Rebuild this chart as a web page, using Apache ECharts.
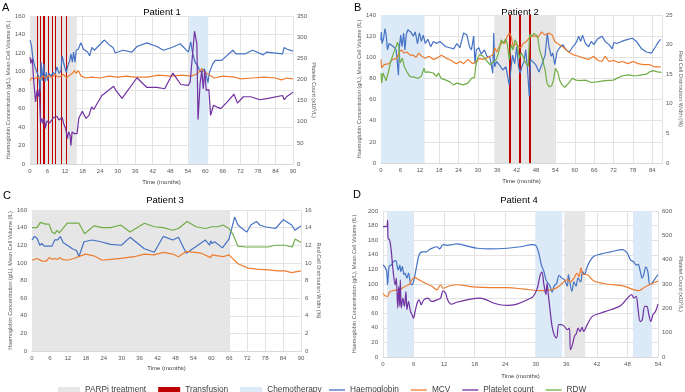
<!DOCTYPE html>
<html><head><meta charset="utf-8">
<script src="https://cdn.jsdelivr.net/npm/echarts@6/dist/echarts.min.js"></script>
<style>html,body{margin:0;padding:0;background:#fff}#c{width:685px;height:392px}</style>
</head><body><div id="c"></div>
<script>
// ---------- Patient 1 ----------
const p1Ticks = [0,6,12,18,24,30,36,42,48,54,60,66,72,78,84,90];
const p1Parpi = [[0,16]];
const p1Chemo = [[54.5,61]];
const p1Transfusion = [2.5,3.6,4.5,5.0,6.2,7.5,8.8,10.8,12.5];
const p1Hb = [[0,134],[0.5,128],[1.0,114],[1.7,105],[2.4,99],[3.0,94],[3.4,78],[3.8,110],[4.2,90],[4.7,108],[5.1,89],[5.6,99],[6.0,90],[6.5,98],[7.2,95],[7.9,99],[8.5,96],[9.2,105],[9.9,98],[10.6,101],[11.0,117],[11.7,107],[12.4,99],[13.1,108],[13.6,112],[14.0,119],[14.5,110],[14.9,121],[15.4,110],[15.8,123],[16.5,124],[17.4,131],[18.3,124],[19.7,121],[20.4,117],[21.2,126],[22.0,123],[25.5,134],[27.4,128],[28.4,126],[29.2,120],[31.8,123],[34.9,121],[36.6,127],[40.0,131],[43.4,127],[45.7,123],[48.5,126],[51.4,130],[54.2,121],[55.0,132],[55.7,119],[56.5,110],[57.3,107],[58.0,101],[58.7,99],[59.6,103],[60.3,96],[60.9,88],[61.4,99],[62.5,108],[63.4,112],[65.6,112],[69.4,123],[70.5,119],[73.5,119],[76.2,123],[79.8,118],[81.0,121],[86.4,119],[87.0,126],[88.0,124],[90,122]];
const p1Mcv = [[0,90],[0.5,93],[1.5,92],[2.5,94],[3.5,92],[4.5,95],[5.5,93],[6.5,96],[7.5,93],[8.5,97],[9.5,94],[10.5,95],[11.5,97],[12.5,93],[13.5,96],[14.5,98],[15.2,101],[15.8,98],[16.5,101],[17.5,95],[19,93],[21,94],[24,93],[27,95],[30,94],[33,95],[36,94],[40,94],[44,96],[48,95],[52,96],[55,95],[57,97],[58.8,103],[59.5,100],[61,97],[63,93],[66,95],[70,94],[72,92],[76,93],[80,94],[84,93],[86,91],[88,93],[90,92]];
const p1Plt = [[0,253],[0.3,238],[0.8,249],[1.25,198],[1.9,147],[2.4,174],[2.8,159],[3.2,178],[3.6,97],[4.0,108],[4.4,96],[4.9,108],[5.2,84],[5.8,102],[6.7,97],[8.1,110],[9.2,113],[9.9,104],[11.0,110],[11.5,96],[12.2,84],[12.8,60],[13.2,76],[13.7,68],[14.0,43],[14.4,76],[14.8,78],[15.1,72],[16.1,72],[16.7,108],[17.9,125],[18.6,115],[19.2,108],[20.2,115],[21.1,135],[21.8,129],[24.6,162],[25.4,166],[28.6,184],[29.4,174],[31.5,155],[36.6,204],[40.0,181],[43.4,181],[46.1,178],[48.9,215],[51.6,188],[54.2,186],[54.8,194],[55.5,249],[56.3,314],[57.1,284],[57.5,105],[58.2,190],[58.8,221],[59.3,178],[59.8,221],[60.3,174],[61.2,176],[61.8,115],[62.8,139],[63.9,135],[65.3,131],[67.5,147],[69.8,165],[71.0,144],[73.0,159],[75.5,159],[78.7,152],[81.5,155],[86.4,162],[87.0,152],[87.8,159],[90,170]];

// ---------- Patient 2 ----------
const p2Chemo = [[0,13.5]];
const p2Parpi = [[35.1,53.8]];
const p2Transfusion = [39.9,43.0,46.0];
const p2Hb = [[0,116],[0.1,124],[0.3,113],[0.8,118],[1.2,127],[1.6,121],[2.0,107],[2.5,113],[3.1,113],[3.9,110],[4.7,107],[5.4,83],[5.7,110],[6.1,121],[6.5,110],[7.0,123],[7.4,107],[7.8,121],[8.3,126],[9.2,124],[10.0,120],[10.6,124],[11.3,113],[11.9,123],[12.5,115],[13.1,121],[13.7,113],[14.5,117],[15.4,110],[16.2,115],[17.2,113],[18.2,115],[20.1,110],[21.3,109],[22.5,108],[23.5,113],[24.4,109],[25.6,123],[26.6,121],[27.4,110],[28.0,107],[28.7,120],[29.1,94],[29.5,107],[30.3,109],[31.0,103],[32.0,107],[32.8,101],[33.8,99],[34.6,85],[34.9,123],[35.2,91],[35.8,96],[36.6,93],[37.7,88],[38.7,91],[39.2,82],[39.7,74],[40.2,88],[40.7,102],[41.4,94],[42.0,110],[42.6,91],[43.1,85],[43.6,91],[44.3,96],[44.8,107],[45.3,91],[45.9,63],[46.3,98],[46.9,99],[47.9,93],[48.9,86],[49.9,94],[50.8,102],[51.5,123],[52.0,110],[52.7,101],[53.2,104],[53.8,93],[54.5,105],[55.3,109],[56.3,112],[57.3,107],[58.3,105],[59.4,110],[60.0,112],[60.6,115],[61.2,120],[61.8,115],[62.4,121],[63.3,113],[64.3,110],[65.1,115],[65.9,112],[66.9,117],[68.4,120],[69.4,115],[70.6,112],[71.6,108],[72.1,114],[73.0,113],[74.5,115],[76.4,117],[77.8,118],[79.1,115],[80.7,108],[82.2,105],[83.7,104],[84.3,104],[85.0,110],[86.0,115],[86.6,117]];
const p2Mcv = [[0,98],[0.2,90],[1.0,93],[2.4,94],[3.7,98],[4.9,99],[5.7,105],[6.4,107],[7.2,104],[8.0,105],[9.0,102],[10.0,102],[10.8,100],[11.7,104],[12.6,101],[13.7,99],[14.9,101],[16.2,98],[17.2,99],[18.7,102],[20.3,99],[21.8,97],[23.3,94],[24.6,96],[25.6,94],[26.9,98],[28.3,94],[29.5,96],[30.5,99],[31.5,98],[32.5,99],[33.8,101],[34.6,102],[35.2,109],[35.8,105],[36.6,110],[37.7,115],[38.3,113],[39.1,120],[39.7,123],[40.3,120],[40.9,110],[41.8,113],[42.6,110],[43.3,109],[44.0,113],[45.0,115],[46.4,120],[47.7,120],[48.7,119],[49.7,124],[50.8,121],[52.0,123],[53.0,121],[53.8,115],[55.1,112],[56.3,110],[58.1,105],[59.8,102],[61.2,101],[63.1,99],[64.3,98],[65.8,101],[67.2,97],[68.4,96],[69.4,101],[70.6,96],[72.1,97],[73.5,95],[74.7,96],[76.4,94],[78.1,96],[79.6,94],[81.2,93],[83.2,93],[84.7,91],[86.6,91]];
const p2Rdw = [[0,15.2],[0.2,13.5],[0.6,15.2],[1.2,15.2],[1.6,13.9],[2.3,15.4],[2.9,16.9],[3.7,18.3],[4.5,19.4],[5.1,20.4],[5.5,19.7],[5.9,16.9],[6.6,17.7],[7.2,16.3],[8.0,15.4],[9.0,14.6],[10.2,14.5],[11.6,14.3],[12.5,14.7],[13.3,16.0],[13.7,15.3],[14.6,15.4],[16.2,15.2],[17.2,14.6],[17.8,15.2],[18.6,14.3],[20.1,14.0],[21.3,13.7],[22.5,13.2],[23.5,13.5],[25.4,13.2],[26.9,13.5],[28.0,14.3],[29.0,14.5],[29.3,16.3],[29.9,17.7],[30.5,18.3],[31.5,18.1],[32.5,17.4],[33.8,16.6],[34.8,17.1],[35.6,17.4],[36.4,18.6],[37.2,20.8],[37.9,20.2],[38.5,20.9],[39.1,20.2],[39.7,17.4],[40.3,20.0],[40.9,19.1],[41.5,20.8],[42.2,20.0],[42.8,17.7],[43.4,18.6],[44.0,18.0],[44.8,16.9],[45.6,16.3],[46.0,21.7],[46.7,21.4],[47.3,21.9],[47.9,22.2],[48.5,21.4],[49.1,19.1],[49.9,17.7],[50.8,15.7],[51.4,13.5],[52.0,12.9],[52.8,13.0],[53.4,14.0],[54.0,16.0],[54.7,15.4],[55.3,14.0],[56.1,13.2],[56.9,12.8],[58.1,13.5],[59.2,14.3],[60.4,14.0],[61.7,13.9],[63.3,14.0],[65.1,13.6],[66.8,13.7],[69.4,13.9],[71.9,14.0],[73.0,14.3],[74.5,14.7],[76.6,14.9],[78.6,14.7],[80.7,14.9],[82.2,15.0],[83.2,15.4],[84.2,15.6],[85.6,15.4],[86.8,15.3]];

// ---------- Patient 3 ----------
const p3Parpi = [[0,66]];
const p3Hb = [[0,126],[0.8,130],[1.7,128],[2.6,120],[3.3,122],[4.1,119],[5.0,119],[6.7,119],[7.6,126],[8.6,126],[9.1,128],[9.5,130],[10.4,123],[11.8,120],[13.5,116],[14.9,114],[15.7,107],[17.4,124],[20.2,126],[23.0,124],[26.3,121],[29.9,120],[32.8,129],[37.6,116],[40.9,112],[43.9,130],[47.1,126],[49.0,129],[51.6,111],[53.8,116],[58.0,126],[59.4,120],[59.8,125],[60.2,122],[61.1,124],[63.7,117],[65.9,127],[67.8,152],[68.9,143],[70.3,139],[71.9,135],[73.2,143],[75.1,147],[76.2,143],[77.9,141],[81.5,139],[84.1,149],[86.9,143],[88.0,137],[90,142]];
const p3Mcv = [[0,103],[1.7,105],[3.4,102],[4.8,102],[5.7,106],[6.7,104],[7.6,105],[8.6,104],[9.3,106],[10.1,104],[11.8,103],[14.0,105],[16.3,108],[17.9,110],[20.7,108],[23.5,103],[26.3,104],[29.7,105],[34.2,107],[37.6,110],[40.9,109],[43.9,112],[47.1,110],[49.0,107],[51.6,113],[56.6,111],[59.8,106],[60.2,109],[62.2,108],[63.9,107],[65.9,109],[68.9,99],[72.3,94],[75.1,93],[79.0,92],[82.4,91],[84.6,91],[86.9,89],[90,91]];
const p3Rdw = [[0,14.0],[1.7,14.0],[2.8,14.6],[4.5,14.4],[5.7,14.4],[6.7,13.5],[7.5,13.3],[8.4,13.7],[9.1,13.4],[9.8,13.7],[10.4,13.5],[11.8,14.5],[13.5,14.5],[15.7,14.5],[17.6,13.3],[20.7,14.2],[23.5,14.0],[26.3,14.0],[29.7,14.3],[32.8,13.5],[37.6,14.5],[40.9,14.1],[43.9,14.0],[47.1,13.7],[49.0,13.9],[51.9,14.7],[54.9,14.1],[58.0,13.9],[60.2,14.1],[62.2,14.1],[63.9,14.3],[65.9,13.9],[67.3,13.2],[68.9,11.9],[71.7,11.8],[75.1,11.8],[79.0,11.8],[81.3,12.0],[84.6,12.0],[87.1,11.8],[88.0,12.7],[90,12.3]];

// ---------- Patient 4 ----------
const p4Chemo = [[0.8,6.0],[29.9,35.2],[49.1,52.8]];
const p4Parpi = [[35.6,39.7]];
const p4Hb = [[0,126],[0.3,124],[0.7,118],[0.9,99],[1.2,124],[1.6,126],[2.1,131],[2.5,132],[2.8,124],[3.0,119],[3.3,126],[3.5,117],[3.8,124],[4.1,113],[4.3,115],[4.7,108],[5.0,115],[5.4,101],[5.7,99],[6.0,103],[6.6,124],[7.1,140],[7.7,144],[8.4,144],[9.3,148],[10.6,151],[11.1,148],[11.8,154],[12.6,153],[13.6,154],[14.5,155],[16.5,152],[18.5,149],[21.1,148],[24.4,149],[27.0,151],[29.3,154],[30.0,153],[30.6,142],[31.1,126],[31.6,117],[32.0,106],[32.4,101],[32.8,97],[33.2,89],[33.6,97],[34.1,101],[34.6,112],[35.1,108],[35.6,106],[36.2,97],[36.4,113],[36.7,102],[37.1,90],[37.5,103],[37.9,97],[38.3,108],[38.8,103],[39.2,117],[39.6,113],[40.0,122],[40.6,131],[41.4,138],[42.7,141],[44.7,144],[47.0,147],[48.0,142],[48.6,133],[49.3,130],[49.7,126],[50.1,127],[50.5,118],[50.9,108],[51.2,113],[51.6,123],[52.0,117],[52.4,99],[52.8,101],[53.5,108],[54,113]];
const p4Mcv = [[0,87],[0.4,84],[0.9,83],[1.3,89],[2.0,91],[2.8,92],[3.7,94],[4.4,97],[5.2,100],[5.7,106],[6.2,109],[7.0,106],[8.3,101],[9.6,97],[10.6,92],[11.3,99],[11.8,94],[12.9,97],[14.5,99],[17.8,96],[21.1,95],[24.4,95],[27.7,93],[30.9,91],[33.6,93],[34.9,99],[36.2,106],[36.8,103],[37.5,108],[38.1,115],[38.5,110],[38.9,122],[39.3,113],[40.0,113],[41.4,104],[44.0,100],[47.3,97],[49.3,92],[50.3,91],[51.2,95],[52.6,100],[54,104]];
const p4Plt = [[0,536],[0.7,536],[0.9,563],[1.0,488],[1.3,481],[1.6,440],[2.0,351],[2.4,296],[2.6,324],[2.9,201],[3.1,290],[3.3,208],[3.4,317],[3.6,201],[3.9,242],[4.2,208],[4.5,269],[4.7,194],[5.0,228],[5.4,187],[5.7,174],[6.0,160],[6.3,187],[6.7,221],[7.1,235],[7.5,215],[8.0,235],[8.8,242],[9.6,228],[10.6,235],[11.3,242],[11.8,272],[12.3,262],[12.7,235],[13.4,217],[14.5,225],[16.5,235],[19.1,242],[21.8,221],[24.4,212],[26.3,217],[28.3,235],[29.5,249],[30.3,283],[30.8,331],[31.2,349],[31.6,297],[32.0,256],[32.2,303],[32.5,249],[32.8,194],[33.2,126],[33.6,92],[34.1,78],[34.5,133],[35.0,133],[35.6,126],[36.2,112],[36.6,119],[36.8,30],[37.2,51],[37.6,85],[38.0,98],[38.3,119],[38.7,105],[39.1,122],[39.4,105],[40.1,133],[41.1,167],[42.7,180],[44.7,194],[46.7,212],[48.0,242],[48.8,256],[49.3,242],[49.7,249],[50.1,194],[50.5,146],[50.9,153],[51.4,208],[51.8,208],[52.2,174],[52.6,146],[53.0,174],[53.5,187],[54,217]];

const C = {hb:'#4472c4', mcv:'#ed7d31', plt:'#7030a0', rdw:'#70ad47', parpi:'#e6e6e6', chemo:'#dce9f6', tx:'#c00000'};
const FONT = 'Liberation Sans, Arial, sans-serif';
const leftName = 'Haemoglobin Concentration (g/L), Mean Cell Volume (fL)';

const grids = [
  {left:30, right:392, top:16, bottom:228},
  {left:381, right:21, top:15, bottom:229},
  {left:32, right:384, top:210, bottom:41},
  {left:383, right:27, top:211, bottom:35}
];
const xMax = [90, 87, 90, 54];
const xGaps = [15, 15, 14, 16];

function xAxis(i){
  return {type:'value', gridIndex:i, min:0, max:xMax[i], interval:6,
    name:'Time (months)', nameLocation:'middle', nameGap:xGaps[i],
    nameTextStyle:{fontSize:6, color:'#404040', fontFamily:FONT},
    axisLine:{lineStyle:{color:'#d9d9d9'}}, axisTick:{show:false},
    axisLabel:{fontSize:6, color:'#595959', margin:4, fontFamily:FONT, formatter:v=> (v%6===0? String(v):'')},
    splitLine:{show:true, lineStyle:{color:'#e3e3e3', width:1}}};
}
function yLeft(i, max, interval, gap){
  return {type:'value', gridIndex:i, position:'left', min:0, max:max, interval:interval,
    name:leftName, nameLocation:'middle', nameRotate:90, nameGap:gap,
    nameTextStyle:{fontSize:5.5, color:'#595959', fontFamily:FONT},
    axisLine:{show:false}, axisTick:{show:false},
    axisLabel:{fontSize:6, color:'#595959', margin:5, fontFamily:FONT},
    splitLine:{show:true, lineStyle:{color:'#e3e3e3', width:1}}};
}
function yRight(i, max, interval, name, gap){
  return {type:'value', gridIndex:i, position:'right', min:0, max:max, interval:interval,
    name:name, nameLocation:'middle', nameRotate:-90, nameGap:gap,
    nameTextStyle:{fontSize:5.5, color:'#595959', fontFamily:FONT},
    axisLine:{show:false}, axisTick:{show:false},
    axisLabel:{fontSize:6, color:'#595959', margin:4, fontFamily:FONT},
    splitLine:{show:false}};
}
function line(name, data, gi, yi, color, smooth){
  return {type:'line', name:name, data:data, xAxisIndex:gi, yAxisIndex:yi, symbol:'none', smooth:smooth?0.35:false,
    lineStyle:{color:color, width:1.2}, itemStyle:{color:color}, z:5, silent:true};
}
function bands(name, ranges, gi, yi, color){
  return {type:'line', name:name, data:[], xAxisIndex:gi, yAxisIndex:yi, symbol:'none',
    itemStyle:{color:color}, lineStyle:{color:color}, z:1, silent:true,
    markArea:{silent:true, itemStyle:{color:color, opacity:1}, label:{show:false},
      data: ranges.map(r=>[{xAxis:r[0]},{xAxis:r[1]}])}};
}
function tx(values, gi, yi, width){
  return {type:'line', name:'Transfusion', data:[], xAxisIndex:gi, yAxisIndex:yi, symbol:'none',
    itemStyle:{color:C.tx}, lineStyle:{color:C.tx}, z:3, silent:true,
    markLine:{silent:true, symbol:['none','none'], label:{show:false}, animation:false,
      lineStyle:{color:C.tx, width:width, type:'solid', opacity:1},
      data: values.map(v=>({xAxis:v}))}};
}

const series = [
  bands('PARPi treatment', p1Parpi, 0, 0, C.parpi),
  bands('Chemotherapy', p1Chemo, 0, 0, C.chemo),
  tx(p1Transfusion, 0, 0, 1),
  line('Haemoglobin', p1Hb, 0, 0, C.hb),
  line('MCV', p1Mcv, 0, 0, C.mcv),
  line('Platelet count', p1Plt, 0, 1, C.plt),

  bands('Chemotherapy', p2Chemo, 1, 2, C.chemo),
  bands('PARPi treatment', p2Parpi, 1, 2, C.parpi),
  tx(p2Transfusion, 1, 2, 2),
  line('Haemoglobin', p2Hb, 1, 2, C.hb),
  line('MCV', p2Mcv, 1, 2, C.mcv),
  line('RDW', p2Rdw, 1, 3, C.rdw),

  bands('PARPi treatment', p3Parpi, 2, 4, C.parpi),
  line('Haemoglobin', p3Hb, 2, 4, C.hb),
  line('MCV', p3Mcv, 2, 4, C.mcv),
  line('RDW', p3Rdw, 2, 5, C.rdw),

  bands('Chemotherapy', p4Chemo, 3, 6, C.chemo),
  bands('PARPi treatment', p4Parpi, 3, 6, C.parpi),
  line('Haemoglobin', p4Hb, 3, 6, C.hb, true),
  line('MCV', p4Mcv, 3, 6, C.mcv, true),
  line('Platelet count', p4Plt, 3, 7, C.plt, true)
];

const titles = [
  {t:'Patient 1', x:162, y:12}, {t:'Patient 2', x:520, y:12},
  {t:'Patient 3', x:165, y:200}, {t:'Patient 4', x:519, y:200}
];
const letters = [
  {t:'A', x:2, y:8}, {t:'B', x:354, y:8}, {t:'C', x:3, y:196}, {t:'D', x:353, y:195}
];
const graphic = [];
titles.forEach(o=>graphic.push({type:'text', x:o.x, y:o.y, silent:true,
  style:{text:o.t, fontSize:9.5, fill:'#000', fontFamily:FONT, textAlign:'center', textVerticalAlign:'middle'}}));
letters.forEach(o=>graphic.push({type:'text', x:o.x, y:o.y, silent:true,
  style:{text:o.t, fontSize:11, fill:'#000', fontFamily:FONT, textAlign:'left', textVerticalAlign:'middle'}}));

const chart = echarts.init(document.getElementById('c'), null, {renderer:'canvas'});
chart.setOption({
  animation:false,
  backgroundColor:'#fff',
  grid: grids,
  xAxis: [0,1,2,3].map(xAxis),
  yAxis: [
    yLeft(0,160,20,19), yRight(0,350,50,'Platelet Count (x10\u2079/L)',18),
    yLeft(1,140,20,18), yRight(1,25,5,'Red Cell Distribution Width (%)',16),
    yLeft(2,160,20,19), yRight(2,16,2,'Red Cell Distribution Width (%)',14),
    yLeft(3,200,20,26), yRight(3,600,100,'Platelet Count (x10\u2079/L)',20)
  ],
  legend: [
    {left:53, top:381, itemWidth:22, itemHeight:6, itemGap:12, selectedMode:false,
      textStyle:{fontSize:8.3, color:'#404040', fontFamily:FONT},
      data:[{name:'PARPi treatment', icon:'rect', itemStyle:{color:C.parpi}},
            {name:'Transfusion', icon:'rect', itemStyle:{color:C.tx}},
            {name:'Chemotherapy', icon:'rect', itemStyle:{color:C.chemo}}]},
    {left:324, top:381, itemWidth:16, itemHeight:1.3, itemGap:12, selectedMode:false,
      textStyle:{fontSize:8.3, color:'#404040', fontFamily:FONT},
      data:[{name:'Haemoglobin', icon:'rect', itemStyle:{color:C.hb}},
            {name:'MCV', icon:'rect', itemStyle:{color:C.mcv}},
            {name:'Platelet count', icon:'rect', itemStyle:{color:C.plt}},
            {name:'RDW', icon:'rect', itemStyle:{color:C.rdw}}]}
  ],
  graphic: graphic,
  series: series
});
</script></body></html>
